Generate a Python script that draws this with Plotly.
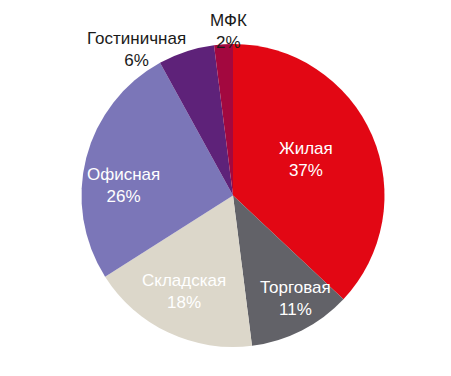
import plotly.graph_objects as go

categories = ["Жилая", "Торговая", "Складская", "Офисная", "Гостиничная", "МФК"]
values = [37, 11, 18, 26, 6, 2]
colors = ["#E20714", "#626268", "#DCD7CA", "#7B76B8", "#5E2279", "#A3083F"]

W, H = 451, 376
# label centre positions in pixels (layout only)
label_px = [(298, 151), (287, 290), (176, 283), (115, 177), (128, 41), (220, 24)]
label_colors = ["white", "white", "white", "white", "#1a1a1a", "#1a1a1a"]

fig = go.Figure(go.Pie(
    labels=categories,
    values=values,
    sort=False,
    direction="clockwise",
    rotation=0,
    textinfo="none",
    hoverinfo="label+percent",
    marker=dict(colors=colors, line=dict(width=0)),
    domain=dict(x=[73 / W, 377 / W], y=[(H - 339) / H, (H - 36) / H]),
    showlegend=False,
))

annotations = []
font_family = "Liberation Sans, Arial, sans-serif"
for cat, val, (px, py), col in zip(categories, values, label_px, label_colors):
    annotations.append(dict(
        x=px / W, y=1 - py / H, xref="paper", yref="paper",
        text=f"{cat}<br>{val}%", showarrow=False,
        xanchor="center", yanchor="middle",
        font=dict(family=font_family, size=17, color=col),
    ))

fig.update_layout(
    width=W, height=H,
    margin=dict(l=0, r=0, t=0, b=0),
    paper_bgcolor="white", plot_bgcolor="white",
    annotations=annotations,
)
fig.write_html("out.html")
